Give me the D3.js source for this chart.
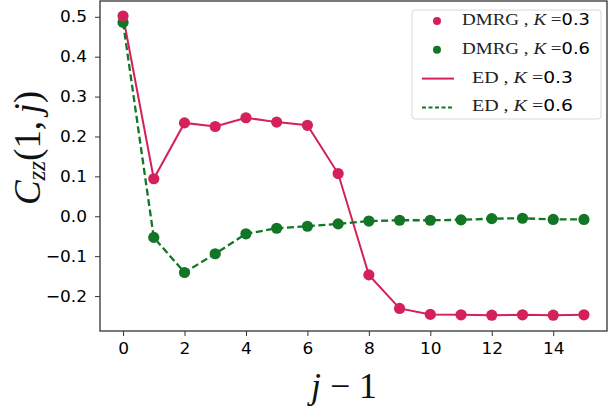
<!DOCTYPE html>
<html>
<head>
<meta charset="utf-8">
<script src="https://cdn.jsdelivr.net/npm/d3@7"></script>
<style>
  body { margin: 0; background: #fff; }
  svg { display: block; }
</style>
</head>
<body>
<div id="chart"></div>
<script>
// Data
const sites = d3.range(0, 16)
const dmrgK03 = [0.502, 0.094, 0.234, 0.225, 0.247, 0.236, 0.228, 0.107, -0.147, -0.231, -0.246, -0.247, -0.248, -0.247, -0.248, -0.247]
const dmrgK06 = [0.486, -0.053, -0.141, -0.094, -0.044, -0.030, -0.025, -0.019, -0.012, -0.010, -0.010, -0.009, -0.006, -0.005, -0.008, -0.008]
const edK03 = dmrgK03
const edK06 = dmrgK06
const xTicks = [0, 2, 4, 6, 8, 10, 12, 14]
const yTicks = [-0.2, -0.1, 0.0, 0.1, 0.2, 0.3, 0.4, 0.5]

const red = "#d42159"
const green = "#137627"

// Dimensions
const dimensions = { width: 616, height: 414 }
const plot = { left: 100, right: 607, top: 1, bottom: 331 }

const svg = d3.select("#chart")
  .append("svg")
  .attr("width", dimensions.width)
  .attr("height", dimensions.height)

const x = d3.scaleLinear().domain([-0.75, 15.75]).range([plot.left, plot.right])
const y = d3.scaleLinear().domain([-0.2876, 0.5396]).range([plot.bottom, plot.top])

// widen glyphs a bit, the reference font runs wide
function stretch(sel, k) {
  sel.each(function () {
    const w = this.getComputedTextLength()
    d3.select(this).attr("textLength", w * k).attr("lengthAdjust", "spacingAndGlyphs")
  })
}

// Axes
const xAxis = svg.append("g")
  .attr("transform", `translate(0,${plot.bottom})`)
  .call(d3.axisBottom(x).tickValues(xTicks).tickSize(5).tickPadding(7).tickFormat(d3.format("d")))
const yAxis = svg.append("g")
  .attr("transform", `translate(${plot.left},0)`)
  .call(d3.axisLeft(y).tickValues(yTicks).tickSize(5).tickPadding(8)
    .tickFormat(d => d3.format(".1f")(d).replace("-", "\u2212")))

for (const ax of [xAxis, yAxis]) {
  ax.select(".domain").remove()
  ax.selectAll(".tick line").attr("stroke", "#333").attr("stroke-width", 1)
  ax.selectAll(".tick text")
    .attr("fill", "#000")
    .attr("font-family", "DejaVu Sans")
    .attr("font-size", 16)
    .call(stretch, 1.06)
}

svg.append("rect")
  .attr("x", plot.left).attr("y", plot.top)
  .attr("width", plot.right - plot.left).attr("height", plot.bottom - plot.top)
  .attr("fill", "none").attr("stroke", "#333").attr("stroke-width", 1.3)

// Lines
const line = (vals) => d3.line().x((d, i) => x(sites[i])).y(d => y(d))(vals)

svg.append("path").attr("d", line(edK03))
  .attr("fill", "none").attr("stroke", red).attr("stroke-width", 2)
svg.append("path").attr("d", line(edK06))
  .attr("fill", "none").attr("stroke", green).attr("stroke-width", 2.3)
  .attr("stroke-dasharray", "7,3.5")

svg.append("g").selectAll("circle")
  .data(dmrgK06).join("circle")
  .attr("cx", (d, i) => x(sites[i])).attr("cy", d => y(d))
  .attr("r", 5.6).attr("fill", green)
svg.append("g").selectAll("circle")
  .data(dmrgK03).join("circle")
  .attr("cx", (d, i) => x(sites[i])).attr("cy", d => y(d))
  .attr("r", 5.6).attr("fill", red)

// fit a label's font size so it spans the given length
function fitFont(t, base, target) {
  const w = t.node().getBBox().width
  t.style("font-size", (base * target / w) + "px")
}

// Axis labels
const ylab = svg.append("text")
  .attr("transform", "translate(40,148) rotate(-90)")
  .attr("text-anchor", "middle")
  .style("font-family", "Liberation Serif")
  .style("font-size", "32px")
  .attr("fill", "#111")
ylab.append("tspan").style("font-style", "italic").text("C")
ylab.append("tspan").style("font-style", "italic").style("font-size", "0.68em").attr("dy", "0.2em").text("zz")
ylab.append("tspan").attr("dy", "-0.136em").text("(1,\u2009")
ylab.append("tspan").style("font-style", "italic").text("j")
ylab.append("tspan").text(")")
fitFont(ylab, 32, 114)

const xlab = svg.append("text")
  .attr("x", 344).attr("y", 398)
  .attr("text-anchor", "middle")
  .style("font-family", "Liberation Serif")
  .style("font-size", "34px")
  .attr("fill", "#111")
xlab.append("tspan").style("font-style", "italic").text("j")
xlab.append("tspan").text(" \u2212 1")
fitFont(xlab, 34, 70)

// Legend
const legend = svg.append("g")
legend.append("rect")
  .attr("x", 412).attr("y", 10).attr("width", 189).attr("height", 109).attr("rx", 3)
  .attr("fill", "#fff").attr("fill-opacity", 0.8).attr("stroke", "#d9d9d9")

const entries = [
  { name: "DMRG", k: "0.3", color: red, kind: "dot", tx: 462, tw: 128 },
  { name: "DMRG", k: "0.6", color: green, kind: "dot", tx: 462, tw: 128 },
  { name: "ED", k: "0.3", color: red, kind: "solid", tx: 472, tw: 101 },
  { name: "ED", k: "0.6", color: green, kind: "dash", tx: 472, tw: 101 },
]
entries.forEach((e, i) => {
  const cy = 21 + i * 28.8
  if (e.kind === "dot") {
    legend.append("circle").attr("cx", 437).attr("cy", cy).attr("r", 4).attr("fill", e.color)
  } else {
    legend.append("line").attr("x1", 422).attr("x2", 454).attr("y1", cy).attr("y2", cy)
      .attr("stroke", e.color).attr("stroke-width", 2)
      .attr("stroke-dasharray", e.kind === "dash" ? "4,2.5" : null)
  }
  const g = legend.append("g").attr("transform", `translate(${e.tx},${cy + 4})`)
  const t = g.append("text")
    .style("font-family", "Liberation Serif")
    .style("font-size", "16px")
    .attr("fill", "#222")
  t.append("tspan").text(e.name + " , ")
  t.append("tspan").style("font-style", "italic").text("K")
  t.append("tspan").text(" =")
  t.append("tspan").style("font-family", "DejaVu Sans").style("font-size", "15px").attr("fill", "#000").text(e.k)
  const w = t.node().getBBox().width
  t.attr("transform", `scale(${e.tw / w},1)`)
})
</script>
</body>
</html>
